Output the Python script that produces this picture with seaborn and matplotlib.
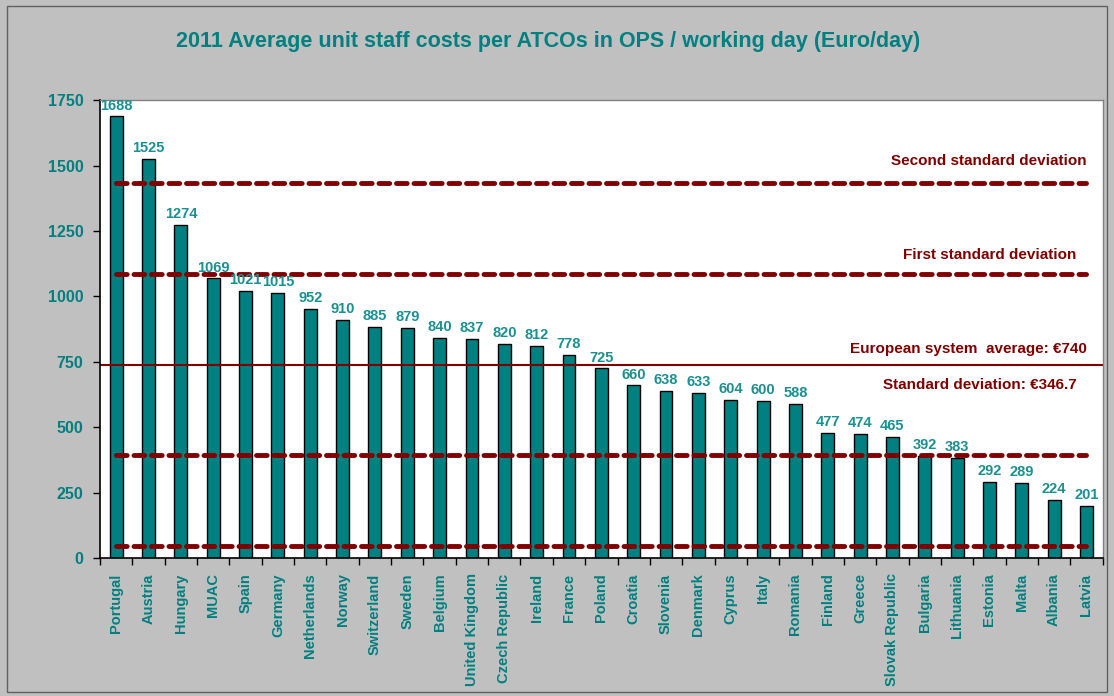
import numpy as np
import matplotlib.pyplot as plt
import seaborn as sns
import pandas as pd

# data
countries = ["Portugal", "Austria", "Hungary", "MUAC", "Spain", "Germany", "Netherlands",
             "Norway", "Switzerland", "Sweden", "Belgium", "United Kingdom", "Czech Republic",
             "Ireland", "France", "Poland", "Croatia", "Slovenia", "Denmark", "Cyprus", "Italy",
             "Romania", "Finland", "Greece", "Slovak Republic", "Bulgaria", "Lithuania",
             "Estonia", "Malta", "Albania", "Latvia"]
costs = [1688, 1525, 1274, 1069, 1021, 1015, 952, 910, 885, 879, 840, 837, 820, 812, 778,
         725, 660, 638, 633, 604, 600, 588, 477, 474, 465, 392, 383, 292, 289, 224, 201]
average = 740
std_dev = 346.7

teal = "#008080"
dark_red = "#800000"

sns.set_style("white")
plt.rcParams['font.family'] = ['Liberation Sans', 'DejaVu Sans']

df = pd.DataFrame({"country": countries, "cost": costs})

fig = plt.figure(figsize=(11.14, 6.96), dpi=100, facecolor="#C0C0C0")
ax = fig.add_axes([0.0898, 0.198, 0.9, 0.658])
ax.set_facecolor("white")

sns.barplot(data=df, x="country", y="cost", color=teal, width=0.4,
            edgecolor="black", linewidth=1, saturation=1, ax=ax)

# value labels
for i, v in enumerate(costs):
    ax.text(i, v + 15, str(v), ha="center", va="bottom", color="#1A9090",
            fontsize=10.5, fontweight="bold")

n = len(countries)
# standard deviation bands
for k in (2, 1, -1, -2):
    ax.plot([0, n - 1], [average + k * std_dev] * 2, color=dark_red, lw=3.5,
            ls=(0, (2.2, 1.4)), solid_capstyle="round", dash_capstyle="round")
ax.axhline(average, color=dark_red, lw=1.5)

lx = n - 1
ax.text(lx, 1517, "Second standard deviation", ha="right", va="center",
        color=dark_red, fontsize=11, fontweight="bold")
ax.text(lx - 0.3, 1158, "First standard deviation", ha="right", va="center",
        color=dark_red, fontsize=11, fontweight="bold")
ax.text(lx, 798, "European system  average: \u20ac740", ha="right", va="center",
        color=dark_red, fontsize=11, fontweight="bold")
ax.text(lx - 0.3, 661, "Standard deviation: \u20ac346.7", ha="right", va="center",
        color=dark_red, fontsize=11, fontweight="bold")

ax.set_xlim(-0.5, n - 0.5)
ax.set_ylim(0, 1750)
ax.set_yticks(np.arange(0, 1751, 250))
ax.set_xlabel("")
ax.set_ylabel("")

ax.set_xticks(range(n))
ax.set_xticklabels(countries, rotation=90, color=teal, fontsize=10.5, fontweight="bold")
ax.set_xticks(np.arange(-0.5, n, 1), minor=True)
ax.tick_params(axis="x", which="major", length=0, pad=11)
ax.tick_params(axis="x", which="minor", length=5, width=1, color="black", direction="out",
               bottom=True)
ax.tick_params(axis="y", length=5, width=1, color="black", direction="out", left=True,
               pad=7)
for lab in ax.get_yticklabels():
    lab.set_color(teal)
    lab.set_fontweight("bold")
    lab.set_fontsize(11.5)

for side in ("top", "right"):
    ax.spines[side].set_color("#808080")
    ax.spines[side].set_linewidth(1)
for side in ("left", "bottom"):
    ax.spines[side].set_color("black")
    ax.spines[side].set_linewidth(1.2)

fig.text(0.492, 0.94, "2011 Average unit staff costs per ATCOs in OPS / working day (Euro/day)",
         ha="center", va="center", color=teal, fontsize=15.5, fontweight="bold")

# outer border
fig.patches.append(plt.Rectangle((0.006, 0.006), 0.988, 0.985, transform=fig.transFigure,
                                 fill=False, edgecolor="#606060", lw=1))

fig.savefig("out.png", dpi=100, facecolor=fig.get_facecolor())
